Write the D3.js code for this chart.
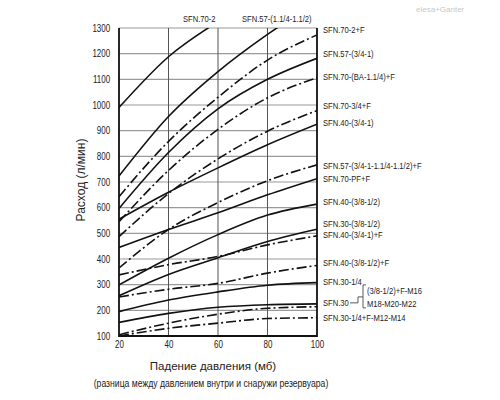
<!DOCTYPE html>
<html>
<head>
<meta charset="utf-8">
<script src="https://cdn.jsdelivr.net/npm/d3@7"></script>
<style>
  body { margin: 0; background: #fff; }
  svg { display: block; font-family: "Liberation Sans", Arial, sans-serif; }
</style>
</head>
<body>
<svg id="chart" width="500" height="400"></svg>
<script>
// pressure drop (mb) where flow values were read
const pressures = [20, 40, 60, 80, 100];

// curve names and whether the curve is drawn dash-dot
const curveNames = [
  "SFN.70-2", "SFN.57-(1.1/4-1.1/2)", "SFN.70-2+F", "SFN.57-(3/4-1)",
  "SFN.70-(BA-1.1/4)+F", "SFN.70-3/4+F", "SFN.40-(3/4-1)",
  "SFN.57-(3/4-1-1.1/4-1.1/2)+F", "SFN.70-PF+F", "SFN.40-(3/8-1/2)",
  "SFN.30-(3/8-1/2)", "SFN.40-(3/4-1)+F", "SFN.40-(3/8-1/2)+F",
  "SFN.30-1/4", "SFN.30-M18-M20-M22", "SFN.30-(3/8-1/2)+F-M16",
  "SFN.30-1/4+F-M12-M14"
];
const curveDashed = [false, false, true, false, true, true, false, true, false, false,
  false, true, true, false, false, true, true];

// flow (l/min) at each pressure
const flows = [
  [990, 1188, 1325, 1440, 1540],
  [723, 955, 1130, 1275, 1400],
  [643, 858, 1030, 1175, 1273],
  [597, 815, 985, 1100, 1182],
  [545, 745, 905, 1028, 1106],
  [487, 655, 790, 898, 978],
  [555, 660, 755, 845, 925],
  [365, 515, 620, 705, 767],
  [445, 515, 580, 650, 713],
  [299, 403, 495, 571, 614],
  [257, 340, 405, 468, 516],
  [338, 378, 410, 455, 490],
  [252, 282, 305, 345, 375],
  [195, 240, 272, 298, 308],
  [153, 188, 212, 222, 225],
  [105, 150, 185, 208, 214],
  [100, 130, 150, 168, 171]
];

// ticks
const xTicks = [20, 40, 60, 80, 100];
const yTicks = [100, 200, 300, 400, 500, 600, 700, 800, 900, 1000, 1100, 1200, 1300];

// right-hand labels and the flow level they sit at
const rightLabels = [
  "SFN.70-2+F", "SFN.57-(3/4-1)", "SFN.70-(BA-1.1/4)+F", "SFN.70-3/4+F", "SFN.40-(3/4-1)",
  "SFN.57-(3/4-1-1.1/4-1.1/2)+F", "SFN.70-PF+F", "SFN.40-(3/8-1/2)", "SFN.30-(3/8-1/2)",
  "SFN.40-(3/4-1)+F", "SFN.40-(3/8-1/2)+F", "SFN.30-1/4", "SFN.30", "SFN.30-1/4+F-M12-M14"
];
const rightLabelAt = [1292, 1200, 1112, 998, 930, 763, 713, 622, 538, 494, 384, 313, 229, 171];
const topLabels = ["SFN.70-2", "SFN.57-(1.1/4-1.1/2)"];
const bracketLabels = ["(3/8-1/2)+F-M16", "M18-M20-M22"];

const svg = d3.select("#chart");
const m = {left: 119, right: 317, top: 28, bottom: 336};
const x = d3.scaleLinear().domain([20, 100]).range([m.left, m.right]);
const y = d3.scaleLinear().domain([100, 1300]).range([m.bottom, m.top]);
const NARROW = 0.8;

// condensed text: plain sans squeezed horizontally
function narrow(parent, px, py, str, size, anchor) {
  return parent.append("text")
    .attr("transform", `translate(${px},${py}) scale(${NARROW},1)`)
    .attr("dy", "0.35em").attr("font-size", size).attr("fill", "#222")
    .attr("text-anchor", anchor || "start").text(str);
}

svg.append("defs").append("clipPath").attr("id", "plot")
  .append("rect").attr("x", m.left).attr("y", m.top)
  .attr("width", m.right - m.left).attr("height", m.bottom - m.top);

// grid
svg.append("g").selectAll("line").data(yTicks).join("line")
  .attr("x1", m.left).attr("x2", m.right)
  .attr("y1", d => y(d)).attr("y2", d => y(d))
  .attr("stroke", "#9a9a9a").attr("stroke-width", 1.2);
svg.append("g").selectAll("line").data(xTicks.slice(1, -1)).join("line")
  .attr("x1", d => x(d)).attr("x2", d => x(d))
  .attr("y1", m.top).attr("y2", m.bottom)
  .attr("stroke", "#555").attr("stroke-width", 1);

// axes (labels only, frame drawn separately)
const yAxis = svg.append("g").attr("transform", `translate(${m.left},0)`)
  .call(d3.axisLeft(y).tickValues(yTicks).tickFormat(d3.format("d")).tickSize(0).tickPadding(11));
const xAxis = svg.append("g").attr("transform", `translate(0,${m.bottom})`)
  .call(d3.axisBottom(x).tickValues(xTicks).tickSize(0).tickPadding(5));
[xAxis, yAxis].forEach(a => {
  a.select(".domain").remove();
  a.selectAll("text").attr("font-size", 10).attr("fill", "#222")
    .attr("font-family", "Liberation Sans, Arial, sans-serif")
    .attr("transform", `scale(${NARROW},1)`);
});

// curves
const line = d3.line().x((d, i) => x(pressures[i])).y(d => y(d)).curve(d3.curveMonotoneX);
svg.append("g").attr("clip-path", "url(#plot)")
  .selectAll("path").data(flows).join("path")
  .attr("d", line)
  .attr("fill", "none").attr("stroke", "#111").attr("stroke-width", 1.6)
  .attr("stroke-dasharray", (d, i) => curveDashed[i] ? "10,3,2,3" : null);

// frame
svg.append("path")
  .attr("d", `M${m.left},${m.top}V${m.bottom}H${m.right}V${m.top}`)
  .attr("fill", "none").attr("stroke", "#111").attr("stroke-width", 1.8);

// right labels
const lab = svg.append("g");
rightLabels.forEach((t, i) => narrow(lab, 323, y(rightLabelAt[i]), t, 9.5));

// bracket for SFN.30 variants
const by = y(229);
svg.append("path")
  .attr("d", `M350,${by}H358V${by - 6}H363M366,${by - 18}H363V${by + 5}H366`)
  .attr("fill", "none").attr("stroke", "#333").attr("stroke-width", 0.8);
narrow(lab, 367, by - 12, bracketLabels[0], 9.5);
narrow(lab, 367, by + 1, bracketLabels[1], 9.5);

// top labels
narrow(lab, 183, 19, topLabels[0], 9.5);
narrow(lab, 242, 19, topLabels[1], 9.5);

// axis titles
svg.append("text").attr("x", 213).attr("y", 370).attr("text-anchor", "middle")
  .attr("font-size", 11.5).attr("fill", "#222").text("Падение давления (мб)");
narrow(svg, 211, 383, "(разница между давлением внутри и снаружи резервуара)", 10.8, "middle");
svg.append("text").attr("transform", "translate(85,180) rotate(-90)").attr("text-anchor", "middle")
  .attr("font-size", 12).attr("fill", "#222").text("Расход (л/мин)");

// faint brand mark
svg.append("text").attr("x", 416).attr("y", 12).attr("font-size", 8)
  .attr("fill", "#c8c8c8").text("elesa+Ganter");
</script>
</body>
</html>
